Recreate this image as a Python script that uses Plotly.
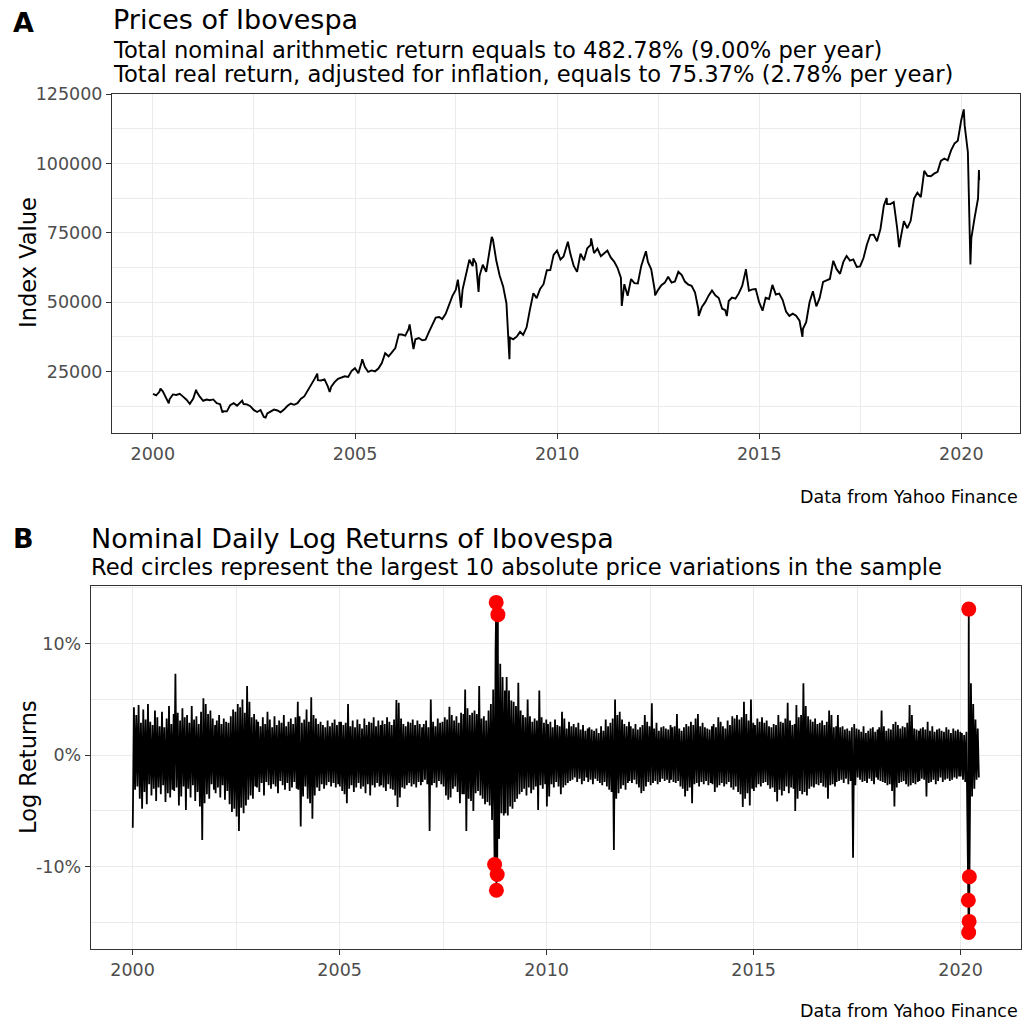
import pandas as pd
import plotly.graph_objects as go

# ---------------- Panel A data: Ibovespa index values ----------------
start_date = "2000-01-03"
start_value = 16930

p2000 = [16388, 17660, 17820, 15538, 14957, 16727, 16539, 16919, 15929, 14820, 13290, 15259]
p2001 = [17672, 15891, 14438, 14861, 14649, 14917, 13600, 13200, 10633, 10627, 12857, 13577]
p2002 = [12680, 14034, 13267, 13118, 12491, 11139, 10390, 11094, 8622, 9867, 10524, 11268]
p2003 = [10941, 10280, 11273, 12556, 13421, 12972, 13573, 15174, 16010, 17982, 20183, 22236]
p2004 = [21851, 21755, 22142, 19607, 19544, 21148, 22337, 22803, 23245, 23052, 25128, 26196]
p2005 = [24351, 28139, 26610, 24843, 25387, 25051, 26042, 28043, 31583, 30476, 31916, 33455]
p2006 = [38382, 38346, 37952, 40365, 36530, 36630, 37077, 36232, 36449, 39262, 41932, 44473]
p2007 = [44641, 43892, 45804, 48956, 52268, 54392, 54182, 54637, 60465, 65317, 63006, 63886]
p2008 = [59490, 63489, 60968, 67868, 72592, 65017, 59505, 55680, 49541, 37256, 36595, 37550]
p2009 = [39300, 38183, 40926, 47289, 53197, 51465, 54766, 56488, 61517, 61545, 67044, 68588]
p2010 = [65402, 66503, 70372, 67529, 63046, 60936, 67515, 65145, 69430, 70673, 67705, 69305]
p2011 = [66575, 67383, 68587, 66133, 64620, 62404, 58823, 56495, 52324, 58338, 56875, 56754]
p2012 = [63072, 66968, 64511, 61820, 54490, 54355, 56097, 57061, 59175, 57068, 57475, 60952]
p2013 = [59761, 57424, 56352, 55910, 53506, 47457, 48234, 50008, 52338, 54256, 52482, 51507]
p2014 = [47638, 47094, 50415, 51627, 51239, 53168, 55829, 61288, 54116, 54629, 54724, 50007]
p2015 = [46908, 51583, 51150, 56229, 52760, 53081, 50865, 46626, 45059, 45868, 45120, 43350]
p2016 = [40406, 42793, 50055, 53910, 48471, 51527, 57308, 57901, 58367, 64924, 61906, 60227]
p2017 = [64670, 66662, 64984, 65403, 62711, 62900, 65920, 70835, 74294, 74308, 71971, 76402]
p2018 = [84913, 85353, 85365, 86115, 76753, 72762, 79220, 76677, 79342, 87423, 89504, 87887]
p2019 = [97393, 95584, 95414, 96353, 97030, 100967, 101812, 101135, 104745, 107220, 108233, 115645]
p2020 = [113761, 104172, 73020, 80506, 87403]

# intra-month highs / lows
ext_dates = ["2000-03-10", "2000-05-24", "2001-01-26", "2001-09-21", "2002-03-18", "2002-10-16",
             "2004-01-26", "2004-05-17", "2005-03-07", "2006-05-09", "2006-06-13", "2007-07-19",
             "2007-08-16", "2007-12-06", "2008-01-22", "2008-05-20", "2008-10-27", "2010-04-08",
             "2010-11-04", "2011-08-08", "2012-03-13", "2012-06-04", "2013-07-03", "2014-03-14",
             "2014-09-02", "2016-01-26", "2018-02-26", "2018-06-18", "2020-01-23", "2020-03-23",
             "2020-06-08", "2020-06-10"]
ext_vals = [18800, 13500, 18400, 10200, 14500, 8371,
            24200, 17600, 29400, 42000, 33100, 58100,
            48000, 65800, 53700, 73500, 29400, 71800,
            72996, 48668, 68394, 52480, 45044, 44965,
            61895, 37497, 87600, 69814, 119528, 63570,
            97645, 94000]

# ---------------- Panel B data: daily log returns (%) ----------------
ret_2000 = [-6.5, 4.3, -3.1, 3.6, -2.8, 4.5, -3.9, 2.9, -4.8, 4.1, -3.3, 3.2, -4.4, 4.6, -2.6, 3.0, -3.6, 2.7,
            -3.0, 4.0, -4.1, 3.4, -2.9, 2.6, -3.5, 3.9, -2.7, 2.5, -4.2, 3.3, -3.4, 4.4, -3.8, 2.8, -3.1, 3.7]
ret_2001 = [-3.2, 7.3, -2.9, 3.8, -4.5, 3.1, -3.7, 4.2, -2.8, 3.4, -4.9, 3.6, -3.0, 2.9, -3.8, 4.4, -2.7, 3.2,
            -4.1, 3.5, -3.3, 2.8, -4.6, 3.9, -7.6, 5.1, -4.3, 4.6, -3.5, 3.7, -3.9, 4.0, -2.6, 3.3, -3.1, 2.7]
ret_2002 = [-3.4, 3.1, -2.9, 3.6, -3.8, 2.8, -2.7, 3.3, -4.0, 3.0, -3.2, 2.9, -4.4, 3.5, -5.1, 4.1, -4.8, 3.9,
            -5.5, 4.6, -6.8, 4.3, -4.7, 5.0, -5.2, 3.8, -4.5, 6.2, -4.0, 4.8, -3.6, 3.4, -3.9, 3.7, -2.8, 3.2]
ret_2003 = [-2.9, 3.0, -3.3, 2.6, -2.5, 3.4, -3.6, 2.8, -2.4, 3.9, -2.7, 3.2, -3.0, 2.5, -2.6, 3.5, -2.8, 2.7,
            -3.4, 3.1, -2.3, 2.9, -2.7, 3.6, -3.1, 2.6, -2.5, 3.0, -3.2, 3.3, -2.9, 2.8, -2.4, 3.4, -3.0, 4.8]
ret_2004 = [-3.1, 3.5, -6.4, 2.9, -3.7, 3.2, -2.8, 4.1, -3.9, 3.0, -4.3, 5.2, -5.7, 3.6, -3.6, 3.3, -2.9, 2.8,
            -3.2, 3.0, -2.6, 2.7, -3.0, 2.5, -2.7, 3.1, -2.4, 2.6, -2.8, 2.9, -2.5, 3.2, -2.9, 2.7, -2.6, 3.0]
ret_2005 = [-2.8, 3.0, -3.2, 2.7, -3.5, 2.9, -4.3, 4.6, -3.0, 2.6, -2.7, 3.1, -3.3, 2.5, -2.9, 3.2, -2.5, 2.8,
            -3.0, 2.4, -2.8, 3.3, -3.4, 2.7, -2.6, 3.0, -3.6, 2.9, -2.7, 3.4, -2.9, 2.6, -2.5, 3.1, -2.8, 2.7]
ret_2006 = [-2.7, 3.1, -2.9, 2.8, -3.2, 3.4, -2.6, 3.0, -3.0, 2.7, -3.1, 3.2, -3.6, 4.95, -4.65, 4.7, -3.8, 3.3,
            -2.9, 2.8, -3.0, 2.6, -2.7, 3.0, -2.5, 2.9, -2.8, 3.2, -2.6, 2.7, -2.9, 3.1, -2.4, 2.8, -2.7, 2.5]
ret_2007 = [-2.4, 2.8, -2.2, 3.1, -2.6, 2.5, -6.8, 5.0, -2.7, 3.0, -2.5, 2.6, -2.9, 3.3, -2.3, 2.9, -2.6, 3.0,
            -2.8, 3.4, -3.6, 3.2, -4.0, 4.35, -3.8, 3.6, -3.0, 3.1, -2.8, 3.5, -3.3, 2.9, -4.3, 3.8, -3.5, 3.7]
ret_2008 = [-3.5, 5.9, -6.8, 4.2, -3.9, 3.6, -4.1, 3.8, -5.0, 4.0, -3.4, 3.7, -3.2, 6.2, -3.6, 3.3, -3.9, 3.5,
            -4.4, 3.1, -4.2, 4.0, -4.5, 4.6, -5.8, 5.9, -8.0, 9.2, -8.2, 9.1, -7.5, 8.2, -5.2, 7.0, -5.4, 5.8]
ret_2009 = [-5.2, 7.0, -5.4, 5.8, -4.6, 4.9, -4.8, 4.8, -4.2, 4.4, -3.9, 6.5, -3.5, 4.0, -3.3, 3.6, -3.0, 3.4,
            -3.6, 5.0, -2.9, 3.5, -3.4, 3.0, -3.1, 3.3, -2.8, 3.1, -4.9, 5.8, -2.7, 3.4, -3.0, 2.9, -2.6, 3.2]
ret_2010 = [-4.6, 2.8, -3.7, 3.0, -2.6, 2.5, -2.9, 3.2, -2.4, 2.7, -2.8, 2.6, -3.5, 3.9, -2.9, 3.3, -2.7, 2.4,
            -2.5, 3.0, -2.3, 2.6, -2.2, 2.8, -2.0, 2.5, -2.4, 2.9, -2.1, 2.3, -2.6, 2.7, -2.3, 2.2, -2.0, 2.4]
ret_2011 = [-2.4, 2.5, -2.2, 2.3, -2.6, 2.2, -2.1, 2.4, -2.3, 2.0, -2.5, 2.6, -2.7, 2.2, -2.4, 3.2, -2.8, 2.6,
            -3.1, 2.9, -3.3, 3.3, -8.5, 5.0, -3.9, 3.6, -3.4, 3.9, -3.0, 3.2, -2.7, 2.8, -3.1, 2.6, -2.5, 3.0]
ret_2012 = [-2.3, 2.6, -2.5, 2.4, -2.2, 2.8, -2.6, 2.3, -2.9, 2.5, -3.4, 2.7, -3.2, 3.6, -2.8, 3.0, -2.4, 2.6,
            -2.7, 4.65, -2.5, 2.4, -2.3, 2.9, -2.6, 2.2, -2.4, 2.5, -2.1, 2.6, -2.3, 2.4, -2.2, 2.3, -2.5, 2.7]
ret_2013 = [-2.2, 2.5, -2.4, 2.6, -2.5, 3.7, -2.3, 2.4, -2.8, 2.2, -3.0, 2.5, -3.7, 2.8, -3.2, 2.6, -2.9, 3.0,
            -4.3, 2.7, -2.6, 3.3, -2.5, 3.7, -2.8, 2.6, -2.4, 2.9, -2.6, 2.5, -2.3, 2.4, -2.7, 2.3, -2.5, 2.6]
ret_2014 = [-2.6, 2.8, -3.3, 2.5, -2.9, 3.4, -2.7, 3.0, -2.5, 2.6, -2.8, 2.4, -2.6, 3.1, -2.4, 2.7, -2.9, 3.5,
            -3.1, 3.3, -2.8, 3.6, -3.3, 3.2, -3.5, 3.4, -4.65, 4.8, -3.9, 3.7, -3.4, 3.1, -4.5, 5.0, -3.0, 2.9]
ret_2015 = [-3.2, 2.7, -2.9, 3.3, -2.6, 3.0, -2.8, 3.4, -2.5, 2.9, -2.4, 3.1, -2.7, 2.6, -3.0, 2.5, -2.9, 2.8,
            -3.3, 2.7, -4.15, 3.6, -3.1, 3.0, -3.6, 2.9, -3.2, 3.3, -2.8, 4.7, -3.4, 3.1, -2.9, 2.7, -3.0, 2.8]
ret_2016 = [-5.0, 4.5, -3.9, 3.4, -3.2, 3.6, -3.5, 6.45, -3.3, 4.4, -3.6, 3.5, -3.0, 3.2, -2.8, 3.0, -2.9, 3.3,
            -2.6, 2.8, -2.7, 2.9, -2.5, 3.1, -2.8, 2.7, -2.9, 3.0, -3.9, 4.0, -2.7, 3.6, -2.6, 2.5, -2.8, 2.6]
ret_2017 = [-2.4, 3.6, -2.3, 2.5, -2.2, 2.6, -2.5, 2.3, -2.1, 2.4, -2.6, 2.2, -2.3, 2.5, -9.2, 2.8, -2.7, 2.4,
            -2.0, 2.3, -2.2, 2.1, -2.4, 2.6, -2.3, 2.0, -2.5, 2.2, -2.1, 2.4, -2.3, 2.5, -2.6, 2.1, -2.0, 2.3]
ret_2018 = [-2.2, 2.5, -2.3, 4.0, -2.4, 2.6, -2.5, 2.2, -2.7, 2.4, -2.6, 2.3, -3.2, 2.8, -4.6, 3.0, -2.9, 2.7,
            -2.5, 2.4, -2.4, 2.6, -2.3, 2.5, -2.6, 2.9, -2.8, 4.5, -2.7, 3.6, -2.5, 2.4, -2.6, 2.3, -2.4, 2.2]
ret_2019 = [-2.3, 2.4, -2.1, 2.5, -2.2, 2.3, -3.7, 3.0, -2.5, 2.2, -2.4, 2.6, -2.2, 2.1, -2.6, 2.3, -2.3, 2.4,
            -2.0, 2.2, -2.4, 2.1, -2.2, 2.5, -2.1, 2.3, -2.3, 2.0, -2.2, 2.4, -2.0, 2.2, -2.1, 2.3, -1.9, 2.1]
ret_2020 = [-1.9, 2.0, -2.2, 1.8, -2.4, 2.1, -7.0, 9.3, -5.6, 6.45, -3.7, 4.6, -3.0, 3.2, -2.2, 2.4, -2.0]

# the 10 largest absolute daily variations (red circles)
red_dates = ["2008-09-29", "2008-10-13", "2008-10-15", "2008-10-22", "2008-10-28",
             "2020-03-09", "2020-03-12", "2020-03-13", "2020-03-16", "2020-03-18"]
red_vals = [-9.8, 13.7, -12.1, -10.7, 12.6, -13.0, -15.9, 13.1, -14.9, -10.9]

year_tick_vals = ["2000-01-01", "2005-01-01", "2010-01-01", "2015-01-01", "2020-01-01"]
year_tick_text = ["2000", "2005", "2010", "2015", "2020"]
year_minor_vals = ["2002-07-02", "2007-07-02", "2012-07-02", "2017-07-02"]
price_tick_vals = [25000, 50000, 75000, 100000, 125000]
price_tick_text = ["25000", "50000", "75000", "100000", "125000"]
price_minor_vals = [12500, 37500, 62500, 87500, 112500]
ret_tick_vals = [-10, 0, 10]
ret_tick_text = ["-10%", "0%", "10%"]
ret_minor_vals = [-15, -5, 5, 15]

# ---------------- assemble series ----------------
monthly = (p2000 + p2001 + p2002 + p2003 + p2004 + p2005 + p2006 + p2007 + p2008 + p2009 + p2010
           + p2011 + p2012 + p2013 + p2014 + p2015 + p2016 + p2017 + p2018 + p2019 + p2020)
month_dates = pd.date_range("2000-01-31", periods=len(monthly), freq="ME")
price_df = pd.concat([
    pd.DataFrame({"date": [pd.Timestamp(start_date)], "v": [start_value]}),
    pd.DataFrame({"date": month_dates, "v": monthly}),
    pd.DataFrame({"date": pd.to_datetime(ext_dates), "v": ext_vals}),
]).sort_values("date")

year_lists = [ret_2000, ret_2001, ret_2002, ret_2003, ret_2004, ret_2005, ret_2006, ret_2007, ret_2008,
              ret_2009, ret_2010, ret_2011, ret_2012, ret_2013, ret_2014, ret_2015, ret_2016, ret_2017,
              ret_2018, ret_2019]
frames = []
for i, vals in enumerate(year_lists):
    y = 2000 + i
    d = pd.date_range(f"{y}-01-03", f"{y}-12-29", periods=len(vals))
    frames.append(pd.DataFrame({"date": d, "r": vals}))
frames.append(pd.DataFrame({"date": pd.date_range("2020-01-02", "2020-06-10", periods=len(ret_2020)),
                            "r": ret_2020}))
frames.append(pd.DataFrame({"date": pd.to_datetime(red_dates), "r": red_vals}))
ret_df = pd.concat(frames).sort_values("date")

# ---------------- figure ----------------
W, H = 1022, 1021
FONT = "DejaVu Sans"
GRID = "#EBEBEB"
TICKC = "#4D4D4D"
BORDER = "#333333"

fig = go.Figure()
fig.add_trace(go.Scatter(x=price_df["date"], y=price_df["v"], mode="lines",
                         line=dict(color="black", width=1.9), xaxis="x", yaxis="y",
                         showlegend=False, hoverinfo="skip"))
fig.add_trace(go.Scatter(x=ret_df["date"], y=ret_df["r"], mode="lines",
                         line=dict(color="black", width=1.8), xaxis="x2", yaxis="y2",
                         showlegend=False, hoverinfo="skip"))
fig.add_trace(go.Scatter(x=pd.to_datetime(red_dates), y=red_vals, mode="markers",
                         marker=dict(color="#FF0000", size=15), xaxis="x2", yaxis="y2",
                         showlegend=False, hoverinfo="skip"))


def px_x(p):
    return p / W


def px_y(p):
    return 1 - p / H


axis_common = dict(showline=True, mirror=True, linecolor=BORDER, linewidth=1,
                   ticks="outside", ticklen=5, tickcolor=BORDER, tickwidth=1,
                   showgrid=True, gridcolor=GRID, gridwidth=1.2, zeroline=False,
                   automargin=False,
                   tickfont=dict(family=FONT, size=17.5, color=TICKC))

xr = ["1998-12-28", "2021-06-14"]
fig.update_layout(
    width=W, height=H,
    margin=dict(l=0, r=0, t=0, b=0, pad=0),
    paper_bgcolor="white", plot_bgcolor="white",
    xaxis=dict(domain=[px_x(112), px_x(1020)], anchor="y", range=xr, type="date",
               tickmode="array", tickvals=year_tick_vals, ticktext=year_tick_text,
               minor=dict(tickmode="array", tickvals=year_minor_vals, showgrid=True,
                          gridcolor=GRID, gridwidth=0.6, ticks=""),
               **axis_common),
    yaxis=dict(domain=[px_y(433), px_y(94)], anchor="x", range=[2813, 125086],
               tickmode="array", tickvals=price_tick_vals, ticktext=price_tick_text,
               minor=dict(tickmode="array", tickvals=price_minor_vals, showgrid=True,
                          gridcolor=GRID, gridwidth=0.6, ticks=""),
               **axis_common),
    xaxis2=dict(domain=[px_x(90.7), px_x(1020.7)], anchor="y2", range=xr, type="date",
                tickmode="array", tickvals=year_tick_vals, ticktext=year_tick_text,
                minor=dict(tickmode="array", tickvals=year_minor_vals, showgrid=True,
                           gridcolor=GRID, gridwidth=0.6, ticks=""),
                **axis_common),
    yaxis2=dict(domain=[px_y(949.3), px_y(586)], anchor="x2", range=[-17.4, 15.17],
                tickmode="array", tickvals=ret_tick_vals, ticktext=ret_tick_text,
                minor=dict(tickmode="array", tickvals=ret_minor_vals, showgrid=True,
                           gridcolor=GRID, gridwidth=0.6, ticks=""),
                **axis_common),
)


def note(text, x, y, size, xanchor="left", bold=False, angle=0):
    t = f"<b>{text}</b>" if bold else text
    fig.add_annotation(text=t, x=px_x(x), y=px_y(y), xref="paper", yref="paper",
                       xanchor=xanchor, yanchor="middle", showarrow=False, textangle=angle,
                       font=dict(family=FONT, size=size, color="black"))


note("A", 11, 22, 27, bold=True)
note("Prices of Ibovespa", 111, 20, 27)
note("Total nominal arithmetic return equals to 482.78% (9.00% per year)", 111, 50, 22.6)
note("Total real return, adjusted for inflation, equals to 75.37% (2.78% per year)", 111, 74, 22.6)
note("Data from Yahoo Finance", 1020, 497, 17.5, xanchor="right")
note("Index Value", 28, 263, 22.5, xanchor="center", angle=-90)

note("B", 11, 538, 27, bold=True)
note("Nominal Daily Log Returns of Ibovespa", 89, 538, 27)
note("Red circles represent the largest 10 absolute price variations in the sample", 89, 567, 22.6)
note("Data from Yahoo Finance", 1020, 1011, 17.5, xanchor="right")
note("Log Returns", 28, 767, 22.5, xanchor="center", angle=-90)

fig.write_html("out.html", config={"displayModeBar": False},
               post_script="document.body.style.margin='0px';")
